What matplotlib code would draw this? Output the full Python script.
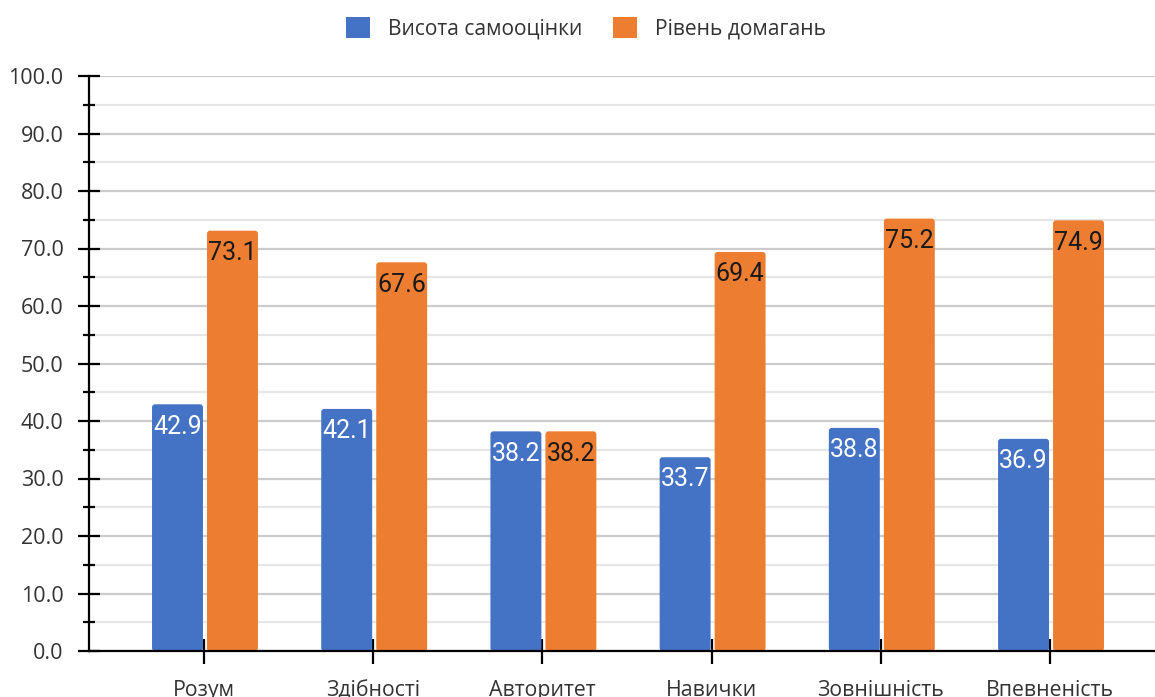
import matplotlib
matplotlib.use('Agg')
import numpy as np
import matplotlib.pyplot as plt
from matplotlib.patches import FancyBboxPatch, Patch
from matplotlib.ticker import MultipleLocator, FormatStrFormatter

# дані
categories = ['Розум', 'Здібності', 'Авторитет', 'Навички', 'Зовнішність', 'Впевненість']
self_esteem = [42.9, 42.1, 38.2, 33.7, 38.8, 36.9]
aspiration = [73.1, 67.6, 38.2, 69.4, 75.2, 74.9]
series_names = ['Висота самооцінки', 'Рівень домагань']

blue = '#4472C4'
orange = '#ED7D31'
text_col = '#333333'

W, H = 1155, 697
fig = plt.figure(figsize=(W / 100, H / 100), dpi=100)
ax = fig.add_axes([89 / W, 46 / H, 1 - 89 / W, (651 - 76) / H])

x = np.arange(len(categories))
bw = 0.301
ax.set_xlim(-0.680, 5.620)
ax.set_ylim(0, 100)

# відношення масштабів для заокруглених кутів
px_x = (ax.get_xlim()[1] - ax.get_xlim()[0]) / (W - 89)
px_y = 100 / (651 - 76)
aspect = px_y / px_x

def draw_bars(xs, vals, color, txt_color):
    for xi, v in zip(xs, vals):
        p = FancyBboxPatch((xi - bw / 2, 0), bw, v,
                           boxstyle='round,pad=0,rounding_size=%f' % (3 * px_x),
                           mutation_aspect=aspect, fc=color, ec='none', zorder=3)
        ax.add_patch(p)
        ax.annotate('%.1f' % v, (xi, v), xytext=(0, -16), textcoords='offset points',
                    ha='center', va='center', fontsize=18, color=txt_color,
                    family='Roboto', zorder=4)

draw_bars(x - 0.157, self_esteem, blue, 'white')
draw_bars(x + 0.168, aspiration, orange, '#1a1a1a')

# осі
for s in ['top', 'right']:
    ax.spines[s].set_visible(False)
for s in ['left', 'bottom']:
    ax.spines[s].set_linewidth(1.6)
    ax.spines[s].set_color('black')
    ax.spines[s].set_zorder(5)

ax.yaxis.set_major_locator(MultipleLocator(10))
ax.yaxis.set_minor_locator(MultipleLocator(5))
ax.yaxis.set_major_formatter(FormatStrFormatter('%.1f'))
ax.tick_params(axis='y', which='major', direction='inout', length=16.5, width=1.6,
               pad=10, labelsize=15.5, labelcolor=text_col)
ax.tick_params(axis='y', which='minor', direction='inout', length=8.6, width=1.6)
for lab in ax.get_yticklabels():
    lab.set_family('Open Sans')

ax.set_xticks(x)
ax.set_xticklabels(categories, family='Open Sans')
ax.tick_params(axis='x', direction='inout', length=18, width=1.6, pad=12,
               labelsize=15.3, labelcolor=text_col)

ax.grid(which='major', axis='y', color='#cccccc', lw=1.6, zorder=0)
ax.grid(which='minor', axis='y', color='#e6e6e6', lw=1.6, zorder=0)
ax.set_axisbelow(True)

handles = [Patch(fc=blue, ec='none'), Patch(fc=orange, ec='none')]
fig.legend(handles, series_names, loc='upper center', bbox_to_anchor=(0.5075, 1.0),
           ncol=2, frameon=False, handlelength=1.15, handleheight=1.15,
           handletextpad=0.85, columnspacing=1.45, borderaxespad=0.4,
           prop={'family': 'Open Sans', 'size': 15.1}, labelcolor=text_col)

fig.savefig('out.png', dpi=100)
